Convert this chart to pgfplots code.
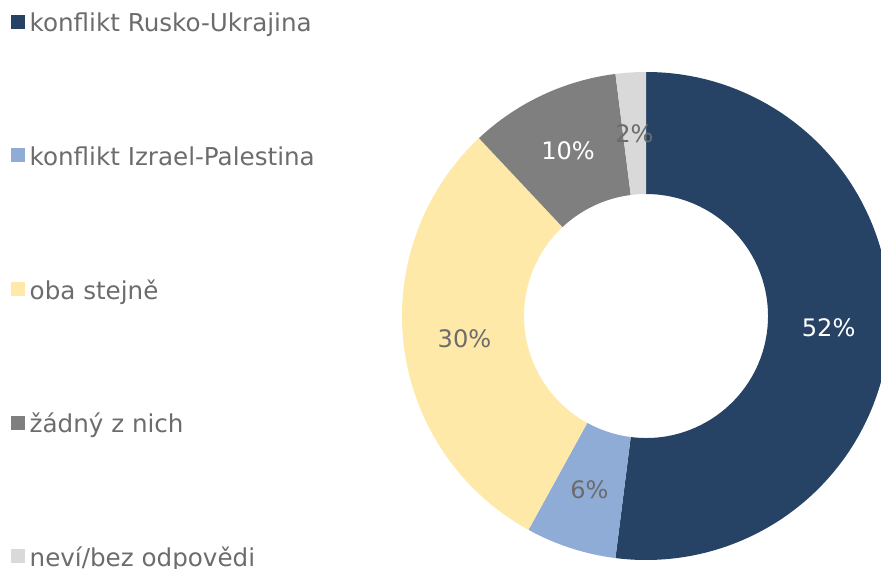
\documentclass[border=0pt]{standalone}
\usepackage{fontspec}
\setmainfont{DejaVu Sans}
\usepackage{pgfplots}
\usepackage{pgfplotstable}
\pgfplotsset{compat=1.18}

\definecolor{slice0}{HTML}{264365}
\definecolor{slice1}{HTML}{8EACD5}
\definecolor{slice2}{HTML}{FFE9A8}
\definecolor{slice3}{HTML}{7F7F7F}
\definecolor{slice4}{HTML}{D9D9D9}
\definecolor{txt}{HTML}{6C6C6C}
\colorlet{lab0}{white}
\colorlet{lab1}{txt}
\colorlet{lab2}{txt}
\colorlet{lab3}{white}
\colorlet{lab4}{txt}
\newcommand\chartfont{\fontsize{6.85}{8}\selectfont}
\newcommand\legfont{\fontsize{7.0}{8}\selectfont}

% shares in percent, clockwise from 12 o'clock
\pgfplotstableread{
value
52
6
30
10
2
}\slices

\begin{document}
\begin{tikzpicture}
\begin{axis}[
    width=8.81cm, height=5.68cm, scale only axis,
    xmin=0, xmax=881, ymin=0, ymax=568,
    hide axis,
]
\pgfmathsetmacro{\cum}{0}
\pgfplotsforeachungrouped \i in {0,...,4}{
  \pgfplotstablegetelem{\i}{value}\of\slices
  \let\v\pgfplotsretval
  \pgfmathsetmacro{\aA}{90-3.6*\cum}
  \pgfmathsetmacro{\aB}{90-3.6*(\cum+\v)}
  \pgfmathsetmacro{\aM}{(\aA+\aB)/2}
  \pgfmathsetmacro{\cum}{\cum+\v}
  \edef\temp{%
    \noexpand\fill[slice\i] ([shift={(\aA:2.44cm)}]axis cs:646,252)
      arc[start angle=\aA, end angle=\aB, radius=2.44cm]
      -- ([shift={(\aB:1.22cm)}]axis cs:646,252)
      arc[start angle=\aB, end angle=\aA, radius=1.22cm] -- cycle;
    \noexpand\node[font=\noexpand\chartfont, text=lab\i]
      at ([shift={(\aM:1.83cm)}]axis cs:646,252) {\v\noexpand\%};
  }
  \temp
}

% legend
\foreach \n/\t [count=\k from 0] in {0/konflikt Rusko-Ukrajina,1/konflikt Izrael-Palestina,2/oba stejně,3/žádný z nich,4/neví/bez odpovědi}{
  \edef\temp{%
    \noexpand\fill[slice\n] (axis cs:11,{539-133.5*\k}) rectangle (axis cs:25,{553-133.5*\k});
  }
  \temp
}
\node[anchor=base west, font=\legfont, text=txt, inner sep=0pt] at (axis cs:29,536) {konflikt Rusko-Ukrajina};
\node[anchor=base west, font=\legfont, text=txt, inner sep=0pt] at (axis cs:29,402.5) {konflikt Izrael-Palestina};
\node[anchor=base west, font=\legfont, text=txt, inner sep=0pt] at (axis cs:29,269) {oba stejně};
\node[anchor=base west, font=\legfont, text=txt, inner sep=0pt] at (axis cs:29,135.5) {žádný z nich};
\node[anchor=base west, font=\legfont, text=txt, inner sep=0pt] at (axis cs:29,2) {neví/bez odpovědi};
\end{axis}
\pgfresetboundingbox
\useasboundingbox (0,0) rectangle (8.81cm,5.68cm);
\end{tikzpicture}
\end{document}
